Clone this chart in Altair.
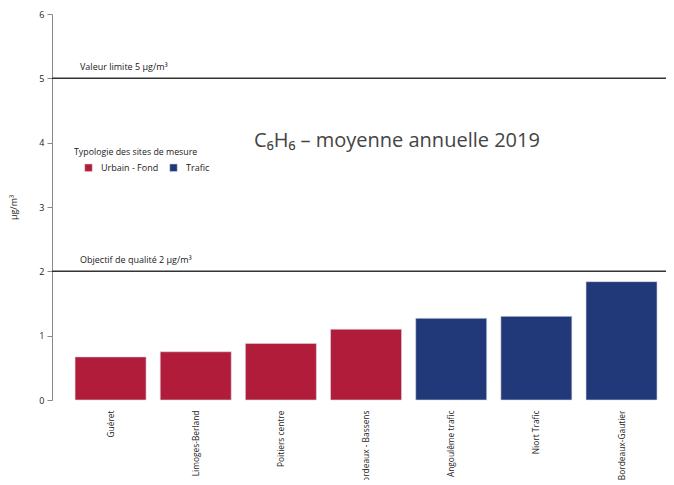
import altair as alt
import pandas as pd

sites = ["Guéret", "Limoges-Berland", "Poitiers centre", "Bordeaux - Bassens",
         "Angoulême trafic", "Niort Trafic", "Bordeaux-Gautier"]
values = [0.67, 0.75, 0.88, 1.10, 1.27, 1.30, 1.84]
types = ["Urbain - Fond", "Urbain - Fond", "Urbain - Fond", "Urbain - Fond",
         "Trafic", "Trafic", "Trafic"]
type_order = ["Urbain - Fond", "Trafic"]
type_colors = ["#B11C3A", "#223979"]

ref_values = [5, 2]
ref_labels = ["Valeur limite 5 µg/m³", "Objectif de qualité 2 µg/m³"]
y_ticks = [0, 1, 2, 3, 4, 5, 6]
title_text = "C₆H₆ – moyenne annuelle 2019"
legend_title = "Typologie des sites de mesure"

df = pd.DataFrame({"site": sites, "value": values, "type": types})
refs = pd.DataFrame({"v": ref_values, "label": ref_labels})

FONT = "Open Sans"

bars = alt.Chart(df).mark_bar(stroke="#d8dcea", strokeWidth=0.6).encode(
    x=alt.X("site:N", sort=sites,
            scale=alt.Scale(paddingInner=0.166, paddingOuter=0.188, align=0.72),
            axis=alt.Axis(title=None, labelAngle=-90, labelFontSize=8.4, labelFont=FONT,
                          labelColor="#222", ticks=False, domain=False, labelPadding=10)),
    y=alt.Y("value:Q", scale=alt.Scale(domain=[0, 6], nice=False),
            axis=alt.Axis(title="µg/m³", values=y_ticks, format="d", grid=False,
                          labelFontSize=9, labelFont=FONT, titleFont=FONT, titleFontSize=9,
                          titleFontWeight="normal", titleColor="#222", labelColor="#222",
                          domainColor="#888", tickColor="#888", tickSize=5,
                          titlePadding=20, labelPadding=3)),
    color=alt.Color("type:N", sort=type_order,
                    scale=alt.Scale(domain=type_order, range=type_colors),
                    legend=alt.Legend(title=None, orient="none",
                                      legendX=32, legendY=149, direction="horizontal",
                                      labelFontSize=9, labelFont=FONT,
                                      labelColor="#222", symbolType="square", symbolSize=55,
                                      symbolStrokeWidth=0.5, symbolStrokeColor="#ccc",
                                      columnPadding=9, padding=0, offset=0,
                                      labelOffset=8)),
)

legend_head = alt.Chart(pd.DataFrame({"t": [legend_title]})).mark_text(
    fontSize=8.8, font=FONT, color="#222", align="left", baseline="middle"
).encode(x=alt.value(22), y=alt.value(138), text="t:N")

rules = alt.Chart(refs).mark_rule(color="#333", strokeWidth=1.5).encode(
    y=alt.Y("v:Q"),
)

rule_text = alt.Chart(refs).mark_text(align="left", baseline="bottom", dy=-6,
                                      fontSize=9, font=FONT, color="#222").encode(
    y=alt.Y("v:Q"),
    x=alt.value(28),
    text="label:N",
)

title = alt.Chart(pd.DataFrame({"t": [title_text]})).mark_text(
    fontSize=20, font=FONT, color="#444", align="center", baseline="middle"
).encode(x=alt.value(345), y=alt.value(127), text="t:N")

chart = alt.layer(bars, rules, rule_text, title, legend_head).properties(
    width=614, height=386,
    autosize=alt.AutoSizeParams(type="none"),
    padding={"left": 44, "top": 6, "right": 0, "bottom": 80},
).configure_view(stroke=None)

chart.save("out.html", embed_options={"renderer": "svg", "actions": False})
